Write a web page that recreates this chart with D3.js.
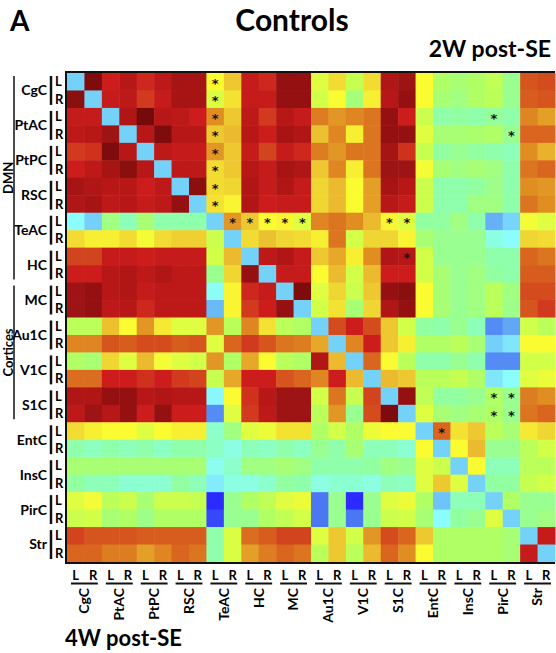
<!DOCTYPE html>
<html>
<head>
<meta charset="utf-8">
<script src="https://cdn.jsdelivr.net/npm/d3@7"></script>
<style>
  body { margin: 0; background: #fff; }
  svg { display: block; font-family: Lato, "Open Sans", sans-serif; }
</style>
</head>
<body>
<div id="chart"></div>
<script>
// brain regions, each with a left and right hemisphere entry
const regions = ["CgC","PtAC","PtPC","RSC","TeAC","HC","MC","Au1C","V1C","S1C","EntC","InsC","PirC","Str"];
const sides = ["L","R"];
const groups = [
  {name: "DMN", from: 0, to: 5},
  {name: "Cortices", from: 6, to: 9}
];

// correlation matrix (upper triangle = 2W post-SE, lower = 4W post-SE), diagonal empty
const values = [
  [null,.99,.90,.93,.89,.92,.95,.95,.62,.70,.91,.89,.97,.97,.58,.67,.54,.67,.94,.96,.62,.50,.48,.50,.53,.44,.84,.85],
  [.98,null,.91,.92,.87,.91,.95,.95,.57,.66,.91,.91,.97,.97,.56,.62,.47,.64,.93,.97,.62,.48,.46,.50,.52,.44,.83,.84],
  [.91,.91,null,.94,1.0,.93,.92,.90,.77,.70,.92,.87,.93,.91,.79,.76,.78,.80,.97,.90,.55,.40,.42,.40,.43,.40,.78,.75],
  [.92,.93,.96,null,.93,.99,.93,.93,.70,.72,.93,.90,.95,.94,.71,.78,.64,.80,.97,.97,.58,.48,.48,.49,.50,.44,.82,.82],
  [.87,.88,.99,.93,null,.92,.91,.91,.76,.70,.91,.86,.91,.89,.79,.76,.80,.80,.95,.88,.54,.42,.44,.42,.40,.38,.77,.73],
  [.90,.92,.95,.98,.93,null,.92,.92,.67,.70,.93,.91,.95,.94,.70,.78,.64,.80,.96,.96,.61,.48,.46,.48,.46,.40,.80,.82],
  [.95,.94,.93,.93,.90,.92,null,.98,.67,.68,.94,.91,.94,.91,.68,.72,.62,.75,.95,.93,.55,.40,.40,.42,.45,.40,.77,.76],
  [.94,.95,.92,.93,.91,.92,.97,null,.66,.63,.94,.90,.91,.91,.68,.72,.62,.75,.93,.91,.55,.40,.40,.46,.46,.40,.80,.77],
  [.28,.20,.46,.38,.48,.40,.40,.40,null,.76,.70,.62,.63,.58,.78,.80,.77,.72,.63,.58,.42,.42,.46,.40,.16,.21,.61,.58],
  [.67,.64,.64,.67,.61,.67,.69,.69,.55,null,.67,.71,.68,.67,.64,.80,.56,.68,.68,.63,.48,.44,.44,.44,.32,.28,.68,.67],
  [.86,.86,.91,.91,.90,.91,.91,.91,.56,.72,null,.92,.94,.91,.70,.74,.64,.77,.94,.93,.56,.44,.44,.44,.40,.40,.82,.80],
  [.90,.90,.93,.94,.92,.94,.92,.92,.44,.68,.97,null,.91,.91,.62,.72,.56,.72,.90,.90,.56,.48,.44,.46,.42,.40,.83,.83],
  [.96,.97,.93,.94,.91,.92,.92,.92,.29,.63,.89,.91,null,.99,.58,.68,.55,.70,.97,.98,.62,.48,.44,.46,.52,.46,.85,.85],
  [.96,.97,.92,.93,.89,.92,.92,.92,.17,.63,.87,.90,.97,null,.56,.66,.48,.68,.94,.97,.62,.48,.44,.46,.52,.45,.84,.87],
  [.52,.52,.71,.62,.76,.65,.58,.58,.76,.52,.78,.66,.52,.50,null,.85,.90,.85,.70,.56,.42,.40,.44,.38,.12,.15,.56,.52],
  [.78,.78,.84,.83,.85,.85,.83,.84,.58,.82,.87,.84,.80,.79,.74,null,.78,.90,.70,.64,.50,.50,.52,.48,.20,.24,.62,.62],
  [.50,.48,.68,.58,.72,.61,.58,.56,.76,.50,.74,.62,.52,.50,.94,.72,null,.82,.62,.52,.40,.40,.44,.40,.12,.12,.56,.56],
  [.81,.81,.90,.90,.88,.90,.87,.86,.54,.74,.90,.90,.84,.82,.78,.90,.72,null,.72,.70,.52,.52,.54,.50,.24,.28,.58,.60],
  [.94,.94,.97,.97,.93,.94,.93,.93,.27,.62,.88,.93,.96,.96,.56,.80,.54,.86,null,.97,.53,.42,.42,.44,.50,.44,.79,.77],
  [.92,.96,.93,.97,.90,.97,.90,.90,.12,.58,.87,.92,.96,.96,.52,.76,.44,.85,.99,null,.58,.48,.46,.48,.50,.44,.80,.82],
  [.67,.64,.62,.62,.58,.62,.64,.64,.35,.46,.58,.60,.66,.66,.50,.56,.50,.60,.62,.62,null,.82,.66,.70,.52,.48,.65,.68],
  [.40,.37,.40,.38,.40,.36,.40,.40,.36,.32,.38,.36,.40,.37,.44,.40,.48,.38,.38,.34,.62,null,.62,.72,.44,.44,.52,.56],
  [.48,.48,.48,.48,.48,.48,.48,.48,.30,.35,.46,.46,.48,.46,.40,.40,.40,.42,.46,.44,.58,.55,null,.62,.38,.38,.52,.52],
  [.42,.38,.38,.34,.34,.34,.42,.38,.25,.32,.32,.35,.42,.40,.32,.34,.34,.32,.38,.36,.58,.70,.58,null,.42,.42,.54,.56],
  [.58,.61,.52,.55,.48,.55,.55,.54,.02,.44,.50,.53,.58,.60,.10,.44,.02,.44,.58,.60,.50,.18,.38,.38,null,.50,.44,.44],
  [.55,.56,.48,.50,.45,.50,.50,.50,.05,.44,.44,.50,.53,.56,.10,.44,.10,.44,.55,.56,.48,.28,.42,.44,.58,null,.44,.46],
  [.86,.84,.84,.84,.83,.83,.83,.83,.40,.57,.81,.83,.86,.86,.58,.70,.56,.76,.85,.82,.70,.50,.50,.50,.50,.48,null,.91],
  [.82,.82,.79,.79,.75,.78,.82,.80,.40,.57,.75,.79,.82,.80,.52,.70,.52,.72,.82,.77,.62,.50,.50,.50,.50,.48,.91,null]
];

// significant cells [row, col]
const stars = [
  [0,8],[1,8],[2,8],[3,8],[4,8],[5,8],[6,8],[7,8],
  [8,9],[8,10],[8,11],[8,12],[8,13],[8,18],[8,19],
  [2,24],[3,25],[10,19],[18,24],[18,25],[19,24],[19,25],[20,21]
];

const width = 556, height = 653;
const plot = { left: 67, top: 73, right: 555, bottom: 562 };

const svg = d3.select('#chart').append('svg')
  .attr('width', width)
  .attr('height', height);

const nodes = d3.range(regions.length * 2);

const x = d3.scaleBand().domain(nodes).range([plot.left, plot.right]);
const y = d3.scaleBand().domain(nodes).range([plot.top, plot.bottom]);

// jet-like colour map
const colorScale = d3.scaleLinear()
  .domain([0.02,0.10,0.18,0.28,0.36,0.42,0.50,0.56,0.62,0.68,0.72,0.77,0.82,0.86,0.90,0.94,0.97,1.0])
  .range(["#2b2bff","#4b78f2","#6ec3f8","#8cfdfd","#8cffc4","#92ffa0","#b0ff64","#d2ff48","#fbfb32",
          "#f0d633","#ebba2f","#e08d22","#d9651f","#d2441e","#cc1d1c","#b01616","#951111","#740a0a"])
  .clamp(true);
const diagColor = "#74d2f8";

//cells
const cells = [];
values.forEach((row, i) => row.forEach((v, j) => cells.push({i, j, v})));

svg.append('g').selectAll('rect')
  .data(cells)
  .join('rect')
  .attr('x', d => x(d.j))
  .attr('y', d => y(d.i))
  .attr('width', x.bandwidth() + 0.5)
  .attr('height', y.bandwidth() + 0.5)
  .attr('fill', d => d.v == null ? diagColor : colorScale(d.v));

//matrix border
svg.append('path')
  .attr('d', `M${plot.right},${plot.top - 1}H${plot.left - 1}V${plot.bottom + 1}H${plot.right}`)
  .attr('fill', 'none')
  .attr('stroke', '#111')
  .attr('stroke-width', 2);

//stars
svg.append('g').selectAll('text')
  .data(stars)
  .join('text')
  .attr('x', d => x(d[1]) + x.bandwidth() / 2)
  .attr('y', d => y(d[0]) + y.bandwidth() / 2 + 6)
  .attr('text-anchor', 'middle')
  .attr('font-family', '"DejaVu Sans", sans-serif')
  .attr('font-size', 13)
  .attr('font-weight', 700)
  .attr('fill', '#111')
  .text('*');

//row labels
const rowLabels = svg.append('g');
regions.forEach((r, k) => {
  const y0 = y(2 * k), y1 = y(2 * k + 1) + y.bandwidth();
  rowLabels.append('text')
    .attr('x', 47).attr('y', (y0 + y1) / 2)
    .attr('dy', '0.35em')
    .attr('text-anchor', 'end')
    .attr('font-size', 14).attr('font-weight', 700)
    .text(r);
  rowLabels.append('line')
    .attr('x1', 51).attr('x2', 51)
    .attr('y1', y0 + 3).attr('y2', y1 - 3)
    .attr('stroke', '#111').attr('stroke-width', 2.5);
  sides.forEach((s, m) => {
    rowLabels.append('text')
      .attr('x', 55).attr('y', y(2 * k + m) + y.bandwidth() / 2)
      .attr('dy', '0.35em')
      .attr('font-size', 13).attr('font-weight', 700)
      .text(s);
  });
});

//column labels
const colLabels = svg.append('g');
regions.forEach((r, k) => {
  const x0 = x(2 * k), x1 = x(2 * k + 1) + x.bandwidth();
  sides.forEach((s, m) => {
    colLabels.append('text')
      .attr('x', x(2 * k + m) + x.bandwidth() / 2).attr('y', 580)
      .attr('text-anchor', 'middle')
      .attr('font-size', 13).attr('font-weight', 700)
      .text(s);
  });
  colLabels.append('line')
    .attr('x1', x0 + 4).attr('x2', x1 - 4)
    .attr('y1', 583.5).attr('y2', 583.5)
    .attr('stroke', '#111').attr('stroke-width', 2);
  colLabels.append('text')
    .attr('transform', `translate(${(x0 + x1) / 2},588) rotate(-90)`)
    .attr('dy', '0.35em')
    .attr('text-anchor', 'end')
    .attr('font-size', 14).attr('font-weight', 700)
    .text(r);
});

//group brackets
groups.forEach(g => {
  const y0 = y(2 * g.from), y1 = y(2 * g.to + 1) + y.bandwidth();
  svg.append('line')
    .attr('x1', 14).attr('x2', 14)
    .attr('y1', y0 + 3).attr('y2', y1 - 3)
    .attr('stroke', '#111').attr('stroke-width', 1.5);
  svg.append('text')
    .attr('transform', `translate(8,${(y0 + y1) / 2}) rotate(-90)`)
    .attr('dy', '0.35em')
    .attr('text-anchor', 'middle')
    .attr('font-size', 13).attr('font-weight', 700)
    .text(g.name);
});

//titles
svg.append('text').attr('x', 10).attr('y', 31)
  .attr('font-size', 28).attr('font-weight', 700).text('A');
svg.append('text').attr('x', 292).attr('y', 31)
  .attr('text-anchor', 'middle')
  .attr('font-size', 30).attr('font-weight', 700).text('Controls');
svg.append('text').attr('x', 551).attr('y', 57)
  .attr('text-anchor', 'end')
  .attr('font-size', 23).attr('font-weight', 700).text('2W post-SE');
svg.append('text').attr('x', 65).attr('y', 646)
  .attr('font-size', 22).attr('font-weight', 700).text('4W post-SE');
</script>
</body>
</html>
